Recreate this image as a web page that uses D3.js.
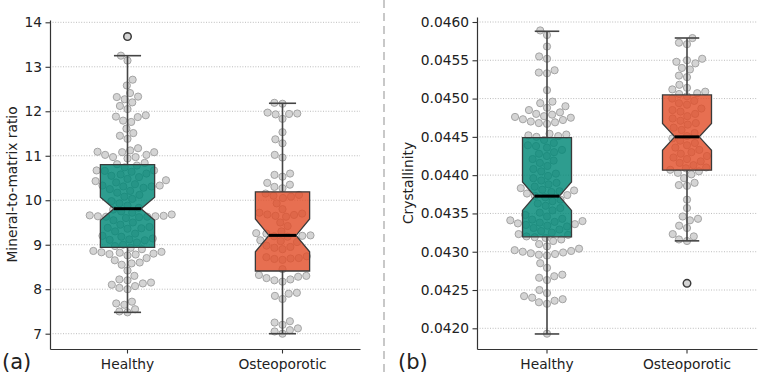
<!DOCTYPE html>
<html>
<head>
<meta charset="utf-8">
<script src="https://cdn.jsdelivr.net/npm/d3@7"></script>
<style>
  body { margin: 0; background: #fff; }
  text { font-family: "DejaVu Sans", sans-serif; fill: #222; }
</style>
</head>
<body>
<div id="chart"></div>
<script>
// categories shared by both panels
const categories = ["Healthy", "Osteoporotic"];

// (a) mineral-to-matrix ratio, one value per swarm point
const mmrHealthy = [13.68, 13.25, 13.14, 12.71, 12.58, 12.41, 12.33, 12.32, 12.27, 12.20, 12.12, 12.05, 11.91, 11.88, 11.87, 11.79, 11.76, 11.61, 11.51, 11.45, 11.38, 11.17, 11.12, 11.09, 11.08, 11.08, 11.02, 11.02, 10.97, 10.97, 10.94,
  10.84, 10.81, 10.78, 10.74, 10.67, 10.67, 10.66, 10.64, 10.60, 10.58, 10.55, 10.52, 10.48, 10.45, 10.43, 10.40, 10.36, 10.33, 10.33, 10.31, 10.31, 10.28, 10.25, 10.21, 10.17, 10.12, 10.08, 10.03, 9.98, 9.93, 9.88, 9.83,
  9.79, 9.75, 9.72, 9.68, 9.66, 9.65, 9.64, 9.64, 9.63, 9.63, 9.62, 9.60, 9.55, 9.50, 9.45, 9.40, 9.38, 9.37, 9.36, 9.30, 9.25, 9.20, 9.18, 9.14, 9.12, 9.11, 9.10, 9.05, 9.00, 8.97,
  8.93, 8.90, 8.86, 8.84, 8.83, 8.82, 8.80, 8.79, 8.78, 8.76, 8.70, 8.65, 8.60, 8.58, 8.55, 8.42, 8.30, 8.22, 8.20, 8.15, 8.13, 8.10, 8.07, 8.03, 8.00, 7.72, 7.68, 7.65, 7.55, 7.50, 7.48];
const mmrOsteo = [12.19, 12.17, 11.97, 11.95, 11.94, 11.93, 11.83, 11.53, 11.37, 11.28, 11.02, 10.96, 10.60, 10.57, 10.53, 10.39, 10.35, 10.30, 10.27,
  10.15, 10.12, 10.10, 10.08, 10.05, 9.93, 9.80, 9.72, 9.70, 9.68, 9.67, 9.65, 9.63, 9.50, 9.42, 9.30, 9.26, 9.25,
  9.21, 9.20, 9.19, 9.18, 9.10, 9.08, 9.06, 8.98, 8.95, 8.93, 8.90, 8.74, 8.72, 8.70, 8.69, 8.68, 8.66, 8.45,
  8.32, 8.30, 8.28, 8.25, 8.22, 8.20, 8.17, 7.92, 7.90, 7.85, 7.78, 7.28, 7.25, 7.20, 7.12, 7.08, 7.05, 7.00];

// (a) box statistics per category
const mmrWhiskerLow = [7.48, 7.00];
const mmrQ1 = [8.94, 8.41];
const mmrNotchLow = [9.55, 8.84];
const mmrMedian = [9.81, 9.21];
const mmrNotchHigh = [10.07, 9.58];
const mmrQ3 = [10.80, 10.19];
const mmrWhiskerHigh = [13.25, 12.18];
const mmrOutliers = [[13.68], []];
const mmrTicks = [7, 8, 9, 10, 11, 12, 13, 14];
const mmrDomain = [6.656, 14.052];

// (b) crystallinity
const crysHealthy = [0.04589, 0.04583, 0.04568, 0.04555, 0.04552, 0.04537, 0.04534, 0.04533, 0.04511, 0.04496, 0.04494, 0.04490, 0.04488, 0.04485, 0.04482, 0.04480, 0.04479, 0.04477, 0.04476, 0.04475, 0.04473, 0.04472, 0.04470, 0.04469, 0.04468, 0.04467, 0.04454, 0.04453, 0.04452, 0.04451, 0.04450,
  0.04446, 0.04442, 0.04439, 0.04438, 0.04436, 0.04433, 0.04430, 0.04428, 0.04425, 0.04421, 0.04419, 0.04416, 0.04412, 0.04408, 0.04405, 0.04402, 0.04399, 0.04396, 0.04393, 0.04390, 0.04388, 0.04385, 0.04383, 0.04381, 0.04380, 0.04379, 0.04378, 0.04376, 0.04374, 0.04373,
  0.04371, 0.04368, 0.04366, 0.04363, 0.04360, 0.04357, 0.04354, 0.04351, 0.04348, 0.04346, 0.04343, 0.04342, 0.04341, 0.04340, 0.04339, 0.04338, 0.04337, 0.04336, 0.04335, 0.04334, 0.04333, 0.04331, 0.04329, 0.04327, 0.04325, 0.04323, 0.04322, 0.04320, 0.04319, 0.04318,
  0.04316, 0.04314, 0.04310, 0.04307, 0.04304, 0.04302, 0.04301, 0.04300, 0.04299, 0.04298, 0.04297, 0.04296, 0.04295, 0.04285, 0.04279, 0.04270, 0.04268, 0.04266, 0.04263, 0.04250, 0.04246, 0.04242, 0.04240, 0.04238, 0.04236, 0.04234, 0.04232, 0.04193];
const crysOsteo = [0.04579, 0.04573, 0.04571, 0.04552, 0.04550, 0.04548, 0.04546, 0.04540, 0.04538, 0.04530, 0.04528, 0.04518, 0.04514, 0.04512, 0.04509, 0.04507, 0.04506,
  0.04503, 0.04500, 0.04497, 0.04494, 0.04492, 0.04487, 0.04485, 0.04483, 0.04480, 0.04477, 0.04474, 0.04471, 0.04468, 0.04466, 0.04462, 0.04459, 0.04455, 0.04451,
  0.04448, 0.04445, 0.04442, 0.04439, 0.04436, 0.04433, 0.04430, 0.04428, 0.04425, 0.04423, 0.04421, 0.04418, 0.04416, 0.04413, 0.04410, 0.04409, 0.04407,
  0.04405, 0.04403, 0.04401, 0.04396, 0.04390, 0.04387, 0.04386, 0.04368, 0.04357, 0.04346, 0.04343, 0.04341, 0.04334, 0.04331, 0.04323, 0.04320, 0.04316, 0.04314, 0.04259];

const crysWhiskerLow = [0.041926, 0.043142];
const crysQ1 = [0.043195, 0.044065];
const crysNotchLow = [0.043540, 0.044326];
const crysMedian = [0.043726, 0.044500];
const crysNotchHigh = [0.043912, 0.044674];
const crysQ3 = [0.044490, 0.045048];
const crysWhiskerHigh = [0.045879, 0.045791];
const crysOutliers = [[], [0.042587]];
const crysTicks = [0.0420, 0.0425, 0.0430, 0.0435, 0.0440, 0.0445, 0.0450, 0.0455, 0.0460];
const crysDomain = [0.0417297, 0.0460653];

const boxColors = ["#008776", "#e24f2b"];

const width = 762, height = 377;

const svg = d3.select("#chart").append("svg")
    .attr("width", width)
    .attr("height", height);

svg.append("rect").attr("width", width).attr("height", height).attr("fill", "#fff");

// beeswarm layout like seaborn: values sorted low to high, each point put
// at the free spot closest to the category centre
function swarm(ys, cx, d) {
    const placed = [];
    const sorted = ys.slice().sort((a, b) => b - a);
    for (const y of sorted) {
        const nb = placed.filter(p => Math.abs(p.y - y) < d);
        const lefts = [], rights = [];
        nb.forEach(p => {
            const dx = Math.sqrt(d * d - (p.y - y) ** 2);
            lefts.push(p.x - dx);
            rights.push(p.x + dx);
        });
        const cands = [cx].concat(lefts, rights);
        cands.sort((a, b) => Math.abs(a - cx) - Math.abs(b - cx));
        const x = cands.find(c => nb.every(p => (p.x - c) ** 2 + (p.y - y) ** 2 >= d * d - 1e-6));
        placed.push({ x: x, y: y });
    }
    return placed;
}

function drawPanel(opts) {
    const m = opts.box;
    const g = svg.append("g");

    const y = d3.scaleLinear()
        .domain(opts.domain)
        .range([opts.bottom, opts.top]);

    const x = d3.scaleBand()
        .domain(categories)
        .range([opts.left, opts.right]);

    // dotted grid
    g.append("g")
        .selectAll("line")
        .data(opts.ticks)
        .join("line")
        .attr("x1", opts.left)
        .attr("x2", opts.right)
        .attr("y1", d => y(d))
        .attr("y2", d => y(d))
        .attr("stroke", "#b4b4b4")
        .attr("stroke-width", 0.9)
        .attr("stroke-dasharray", "1,1.6");

    // swarm points (under the boxes)
    categories.forEach((c, i) => {
        const cx = x(c) + x.bandwidth() / 2;
        const pts = swarm(opts.values[i].map(v => y(v)), cx, 8.2);
        g.append("g")
            .selectAll("circle")
            .data(pts)
            .join("circle")
            .attr("cx", d => d.x)
            .attr("cy", d => d.y)
            .attr("r", 3.6)
            .attr("fill", "#d4d4d4")
            .attr("stroke", "#a4a4a4")
            .attr("stroke-width", 1);
    });

    categories.forEach((c, i) => {
        const cx = x(c) + x.bandwidth() / 2;
        const bw = x.bandwidth() * 0.35;
        const hw = bw / 2, nw = bw / 4;

        // whiskers
        g.append("line")
            .attr("x1", cx).attr("x2", cx)
            .attr("y1", y(m.lo[i])).attr("y2", y(m.q1[i]))
            .attr("stroke", "#444").attr("stroke-width", 1.6);
        g.append("line")
            .attr("x1", cx).attr("x2", cx)
            .attr("y1", y(m.q3[i])).attr("y2", y(m.hi[i]))
            .attr("stroke", "#444").attr("stroke-width", 1.6);
        [m.lo[i], m.hi[i]].forEach(v => {
            g.append("line")
                .attr("x1", cx - nw).attr("x2", cx + nw)
                .attr("y1", y(v)).attr("y2", y(v))
                .attr("stroke", "#444").attr("stroke-width", 1.6);
        });

        // notched box
        const pts = [
            [cx - hw, y(m.q1[i])], [cx + hw, y(m.q1[i])], [cx + hw, y(m.nlo[i])],
            [cx + nw, y(m.med[i])], [cx + hw, y(m.nhi[i])], [cx + hw, y(m.q3[i])],
            [cx - hw, y(m.q3[i])], [cx - hw, y(m.nhi[i])], [cx - nw, y(m.med[i])],
            [cx - hw, y(m.nlo[i])]
        ];
        g.append("path")
            .attr("d", d3.line()(pts) + "Z")
            .attr("fill", boxColors[i])
            .attr("fill-opacity", 0.82)
            .attr("stroke", "#3a3a3a")
            .attr("stroke-width", 1.3);

        // median
        g.append("line")
            .attr("x1", cx - nw).attr("x2", cx + nw)
            .attr("y1", y(m.med[i])).attr("y2", y(m.med[i]))
            .attr("stroke", "#000").attr("stroke-width", 3);

        // fliers
        g.append("g")
            .selectAll("circle")
            .data(m.out[i])
            .join("circle")
            .attr("cx", cx)
            .attr("cy", d => y(d))
            .attr("r", 3.8)
            .attr("fill", "none")
            .attr("stroke", "#3a3a3a")
            .attr("stroke-width", 1.4);
    });

    // axes
    const yAxis = g.append("g")
        .attr("transform", `translate(${opts.left},0)`)
        .call(d3.axisLeft(y).tickValues(opts.ticks).tickFormat(opts.fmt)
            .tickSize(4.5).tickPadding(3.5).tickSizeOuter(0));
    const xAxis = g.append("g")
        .attr("transform", `translate(0,${opts.bottom})`)
        .call(d3.axisBottom(x).tickSize(4.5).tickPadding(6).tickSizeOuter(0));

    [yAxis, xAxis].forEach(a => {
        a.selectAll("text")
            .style("font-family", "DejaVu Sans")
            .style("font-size", "13.8px")
            .attr("fill", "#222");
        a.selectAll("line").attr("stroke", "#333").attr("stroke-width", 1.1);
        a.select(".domain").attr("stroke", "#333").attr("stroke-width", 1.2);
    });

    g.append("text")
        .attr("transform", `translate(${opts.labelX},${(opts.top + opts.bottom) / 2}) rotate(-90)`)
        .attr("text-anchor", "middle")
        .style("font-size", "13.8px")
        .text(opts.label);

    g.append("text")
        .attr("x", opts.tagX)
        .attr("y", 369)
        .style("font-size", "21px")
        .text(opts.tag);
}

drawPanel({
    left: 50, right: 360, top: 20, bottom: 349,
    domain: mmrDomain,
    ticks: mmrTicks,
    fmt: d3.format("d"),
    values: [mmrHealthy, mmrOsteo],
    box: { lo: mmrWhiskerLow, q1: mmrQ1, nlo: mmrNotchLow, med: mmrMedian,
           nhi: mmrNotchHigh, q3: mmrQ3, hi: mmrWhiskerHigh, out: mmrOutliers },
    label: "Mineral-to-matrix ratio",
    labelX: 17,
    tag: "(a)", tagX: 2
});

drawPanel({
    left: 477, right: 757, top: 17, bottom: 349,
    domain: crysDomain,
    ticks: crysTicks,
    fmt: d3.format(".4f"),
    values: [crysHealthy, crysOsteo],
    box: { lo: crysWhiskerLow, q1: crysQ1, nlo: crysNotchLow, med: crysMedian,
           nhi: crysNotchHigh, q3: crysQ3, hi: crysWhiskerHigh, out: crysOutliers },
    label: "Crystallinity",
    labelX: 413,
    tag: "(b)", tagX: 398
});

// dashed divider between the panels
svg.append("line")
    .attr("x1", 384).attr("x2", 384)
    .attr("y1", 0).attr("y2", height)
    .attr("stroke", "#c8c8c8")
    .attr("stroke-width", 2)
    .attr("stroke-dasharray", "8,5");
</script>
</body>
</html>
